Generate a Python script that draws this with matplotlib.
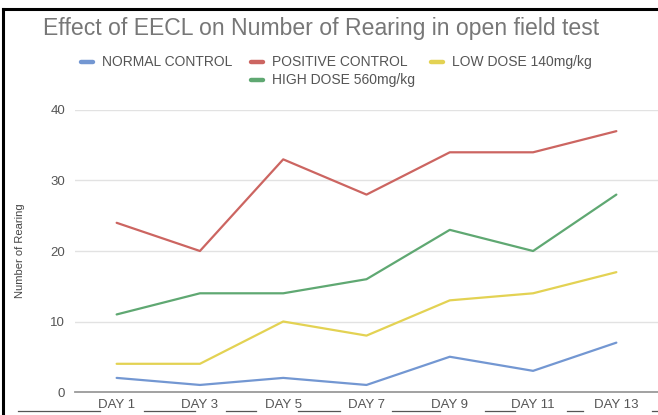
import matplotlib
matplotlib.use("Agg")
import matplotlib.pyplot as plt
from matplotlib.lines import Line2D

days = ["DAY 1", "DAY 3", "DAY 5", "DAY 7", "DAY 9", "DAY 11", "DAY 13"]
normal_control = [2, 1, 2, 1, 5, 3, 7]
positive_control = [24, 20, 33, 28, 34, 34, 37]
low_dose = [4, 4, 10, 8, 13, 14, 17]
high_dose = [11, 14, 14, 16, 23, 20, 28]

series = [
    ("NORMAL CONTROL", normal_control, "#7397d2"),
    ("POSITIVE CONTROL", positive_control, "#cc6561"),
    ("LOW DOSE 140mg/kg", low_dose, "#e3d253"),
    ("HIGH DOSE 560mg/kg", high_dose, "#5fa872"),
]

plt.rcParams["font.family"] = ["Liberation Sans", "DejaVu Sans"]

W, H = 658, 415
fig = plt.figure(figsize=(W / 100, H / 100), dpi=100)
fig.patch.set_facecolor("white")

ax = fig.add_axes([75 / W, 1 - 392 / H, 1 - 75 / W, (392 - 110) / H])
x = list(range(len(days)))
for name, vals, col in series:
    ax.plot(x, vals, color=col, lw=1.6, solid_capstyle="round", solid_joinstyle="round", zorder=3)

ax.set_xlim(-0.5, len(days) - 0.5)
ax.set_ylim(0, 40)
ax.set_yticks([0, 10, 20, 30, 40])
ax.grid(axis="y", color="#e2e2e2", lw=1.0)
ax.set_axisbelow(True)
for s in ["top", "right", "left"]:
    ax.spines[s].set_visible(False)
ax.spines["bottom"].set_color("#9a9a9a")
ax.spines["bottom"].set_linewidth(1.3)
ax.tick_params(axis="y", length=0, pad=7, labelsize=9.5, labelcolor="#555555")
ax.tick_params(axis="x", length=0, pad=5, labelsize=9.5, labelcolor="#555555")
ax.set_xticks(x)
ax.set_xticklabels(days)
ax.set_ylabel("Number of Rearing", fontsize=8, color="#444444", labelpad=18)

# title
fig.text(321 / W, 1 - 29 / H, "Effect of EECL on Number of Rearing in open field test",
         ha="center", va="center", fontsize=16.6, color="#777777")

# legend, centred rows
legend_rows = [
    [(0, 80), (1, 250), (2, 430)],
    [(3, 250)],
]
row_y = [62, 80]
for r, items in enumerate(legend_rows):
    y = 1 - row_y[r] / H
    for idx, xpx in items:
        name, _, col = series[idx]
        fig.add_artist(Line2D([(xpx + 1) / W, (xpx + 13) / W], [y, y], color=col, lw=3.2,
                              solid_capstyle="round", transform=fig.transFigure))
        fig.text((xpx + 22) / W, y, name, ha="left", va="center", fontsize=10, color="#555555")

# scanned frame edges
fig.add_artist(Line2D([3 / W, 3 / W], [0, 1 - 9 / H], color="black", lw=2.2, transform=fig.transFigure))
fig.add_artist(Line2D([3 / W, 1], [1 - 9 / H, 1 - 9 / H], color="black", lw=2.2, transform=fig.transFigure))

# underline strokes between day labels
seg_px = [(18, 100), (144, 195), (226, 256), (298, 340), (392, 440), (485, 515), (567, 583), (652, 658)]
for a, b in seg_px:
    fig.add_artist(Line2D([a / W, b / W], [1 - 411 / H] * 2, color="#555555", lw=0.9, transform=fig.transFigure))

fig.savefig("out.png", dpi=100)
